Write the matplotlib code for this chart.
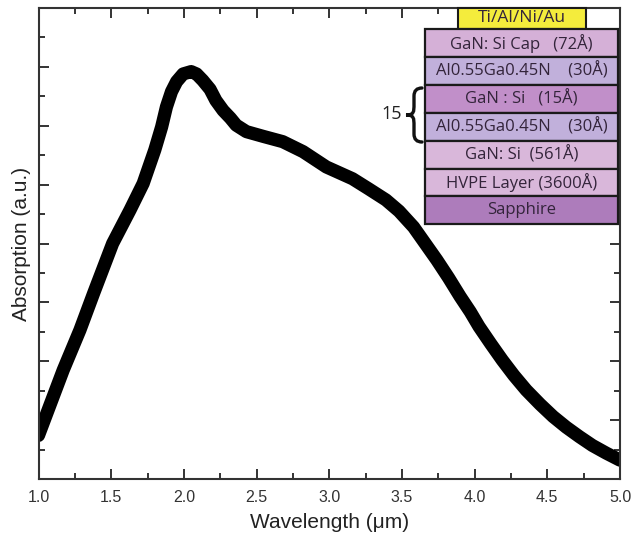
import matplotlib.pyplot as plt
import numpy as np
from matplotlib.patches import Rectangle, PathPatch
from matplotlib.path import Path
from matplotlib.ticker import MultipleLocator, NullFormatter

# absorption spectrum
wavelength = [1.00, 1.17, 1.285, 1.38, 1.51, 1.63, 1.72, 1.80, 1.847, 1.88,
              1.915, 1.95, 1.995, 2.05, 2.087, 2.13, 2.18, 2.22, 2.27, 2.32, 2.36,
              2.43, 2.545, 2.68, 2.82, 2.98, 3.07, 3.16, 3.27, 3.39, 3.48, 3.58,
              3.66, 3.74, 3.82, 3.90, 3.97, 4.03, 4.11, 4.19, 4.27, 4.355, 4.45,
              4.54, 4.63, 4.72, 4.81, 4.905, 5.00]
absorption = [0.74, 1.85, 2.53, 3.16, 4.00, 4.57, 5.02, 5.59, 5.98, 6.32,
              6.58, 6.75, 6.88, 6.92, 6.88, 6.77, 6.62, 6.43, 6.26, 6.13, 6.01,
              5.90, 5.82, 5.73, 5.56, 5.30, 5.20, 5.10, 4.93, 4.74, 4.55, 4.28,
              4.00, 3.72, 3.42, 3.10, 2.84, 2.59, 2.30, 2.02, 1.76, 1.51, 1.27,
              1.06, 0.88, 0.72, 0.57, 0.44, 0.32]

xticks = [1.0, 1.5, 2.0, 2.5, 3.0, 3.5, 4.0, 4.5, 5.0]

# layer stack of the device, top to bottom
contact = "Ti/Al/Ni/Au"
layers = ["GaN: Si Cap   (72Å)", "Al0.55Ga0.45N    (30Å)", "GaN : Si   (15Å)",
          "Al0.55Ga0.45N    (30Å)", "GaN: Si  (561Å)", "HVPE Layer (3600Å)", "Sapphire"]
layer_colors = ["#d5b0d7", "#c1b0db", "#c18fc9", "#c1b0db", "#d9b7da", "#d9b7da", "#ad7cbb"]
n_periods = "15"

W, H = 632, 538
fig = plt.figure(figsize=(W / 100, H / 100), dpi=100)
ax = fig.add_axes([38.5 / W, 1 - 479 / H, (620 - 38.5) / W, (479 - 8) / H])

ax.plot(wavelength, absorption, color="black", lw=9.5, solid_capstyle="round",
        solid_joinstyle="round")

ax.set_xlim(1.0, 5.0)
ax.set_ylim(0, 8)
ax.set_xticks(xticks)
ax.set_xticklabels([f"{t:.1f}" for t in xticks], family="Liberation Sans", fontsize=11.5)
ax.xaxis.set_minor_locator(MultipleLocator(0.25))
ax.yaxis.set_major_locator(MultipleLocator(1))
ax.yaxis.set_minor_locator(MultipleLocator(0.5))
ax.yaxis.set_major_formatter(NullFormatter())
ax.tick_params(which="both", direction="in", top=True, right=True, color="#333333", width=1.4)
ax.tick_params(which="major", length=7)
ax.tick_params(which="minor", length=4.3)
ax.tick_params(axis="x", pad=8, labelcolor="#333333")
for s in ax.spines.values():
    s.set_linewidth(1.5)
    s.set_color("#333333")

ax.set_xlabel("Wavelength (μm)", family="Liberation Sans", fontsize=15, color="#222222", labelpad=6)
ax.set_ylabel("Absorption (a.u.)", family="Liberation Sans", fontsize=15, color="#222222", labelpad=2)


def fig_box(x0, y0, x1, y1):
    # pixel box (origin top-left) -> figure fraction rectangle
    return x0 / W, 1 - y1 / H, (x1 - x0) / W, (y1 - y0) / H


def fig_pt(x, y):
    return x / W, 1 - y / H


inset_font = dict(family="Open Sans", fontsize=12, color="#33243a", ha="center", va="center")
edge = "#1a1a1a"

bx, by, bw, bh = fig_box(458, 8, 586, 29)
fig.add_artist(Rectangle((bx, by), bw, bh, transform=fig.transFigure,
                         facecolor="#f4ec3c", edgecolor=edge, lw=1.5))
fig.text(*fig_pt(522, 18.5), contact, **dict(inset_font, fontsize=12.5))

row_top, row_h = 29.5, 27.8
for i, (name, col) in enumerate(zip(layers, layer_colors)):
    top = row_top + i * row_h
    bx, by, bw, bh = fig_box(425, top, 618, top + row_h)
    fig.add_artist(Rectangle((bx, by), bw, bh, transform=fig.transFigure,
                             facecolor=col, edgecolor=edge, lw=1.6))
    fig.text(*fig_pt(521.5, top + row_h / 2), name, **inset_font)

# brace marking the repeated GaN/AlGaN period
brace_pts = [(422, 88), (414, 88), (414, 96), (414, 104),
             (414, 112), (414, 115), (406, 115),
             (414, 115), (414, 118), (414, 126),
             (414, 134), (414, 142), (422, 142)]
brace_codes = [Path.MOVETO, Path.CURVE3, Path.CURVE3, Path.LINETO,
               Path.CURVE4, Path.CURVE4, Path.CURVE4,
               Path.CURVE4, Path.CURVE4, Path.CURVE4,
               Path.LINETO, Path.CURVE3, Path.CURVE3]
brace = Path([fig_pt(x, y) for x, y in brace_pts], brace_codes)
fig.add_artist(PathPatch(brace, transform=fig.transFigure, facecolor="none",
                         edgecolor="#111111", lw=2.4, capstyle="round"))
fig.text(*fig_pt(392, 114), n_periods, family="Open Sans", fontsize=13,
         ha="center", va="center", color="#222222")

fig.savefig("out.png", dpi=100)
